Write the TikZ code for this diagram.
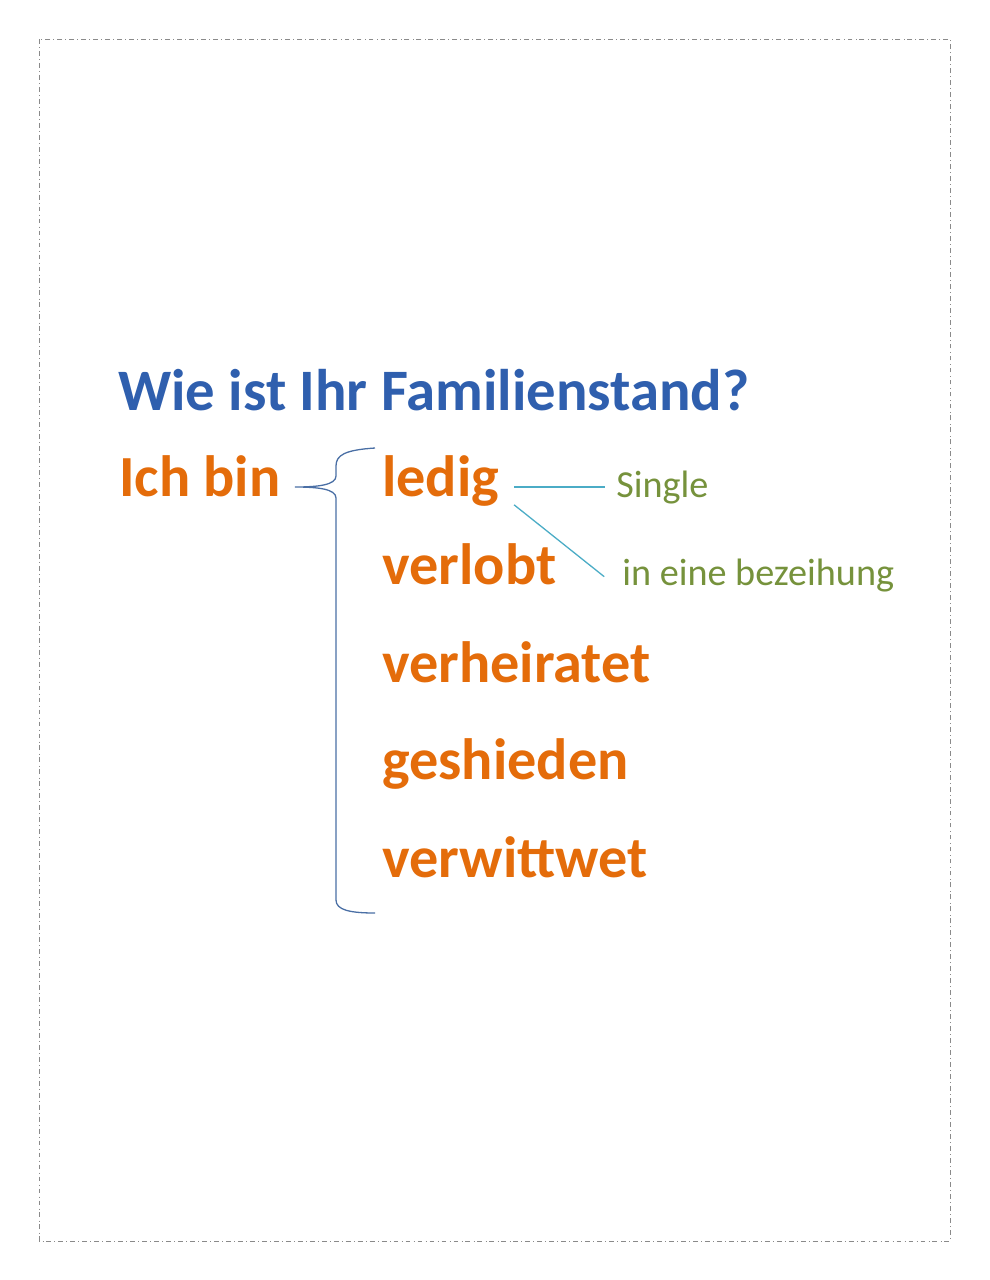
\documentclass[tikz,border=0pt]{standalone}
\usepackage{fontspec}
\setmainfont{Carlito}
\definecolor{orng}{HTML}{E46C0A}
\definecolor{ttlblue}{HTML}{2F5FAE}
\definecolor{olive}{HTML}{76923C}
\definecolor{bracecol}{HTML}{4A6FA5}
\definecolor{linkcol}{HTML}{4BACC6}
\definecolor{framecol}{HTML}{8A8A8A}
\tikzset{
  wordbig/.style={font=\fontsize{36}{40}\selectfont\bfseries, text=orng, inner sep=0pt, anchor=base west},
  titlestyle/.style={font=\fontsize{36.3}{40}\selectfont\bfseries, text=ttlblue, inner sep=0pt, anchor=base west},
  glossstyle/.style={font=\fontsize{23.6}{27}\selectfont, text=olive, inner sep=0pt, anchor=base west},
  linkstyle/.style={draw=linkcol, line width=0.8pt},
  bracestyle/.style={draw=bracecol, line width=0.8pt}
}
\begin{document}
\begin{tikzpicture}[x=0.618pt,y=-0.618pt]
\useasboundingbox (0,0) rectangle (990,1280);
\draw[framecol, dash dot, line width=0.6pt] (39,39) rectangle (950,1241);

\node[titlestyle] (title) at (118,410) {Wie ist Ihr Familienstand?};
\node[wordbig] (ichbin) at (119,496) {Ich bin};
\node[wordbig] (ledig) at (382,496) {ledig};
\node[wordbig] (verlobt) at (382,584) {verlobt};
\node[wordbig] (verheiratet) at (382,682) {verheiratet};
\node[wordbig] (geshieden) at (382,779) {geshieden};
\node[wordbig] (verwittwet) at (382,877) {verwittwet};

\node[glossstyle] (single) at (616,497) {Single};
\node[glossstyle] (bez) at (622,585) {in eine bezeihung};

\draw[linkstyle] ([xshift=9pt]ledig.east |- single.west) -- ([xshift=-7pt]single.west);
\draw[linkstyle] ([xshift=9pt,yshift=-15pt]ledig.east) -- ([xshift=-11pt,yshift=-1pt]bez.west);

\draw[bracestyle] (375,448) .. controls (345,450) and (336,455) .. (336,466)
  -- (336,476) .. controls (336,485) and (318,487) .. (295,487)
  .. controls (318,487) and (336,489) .. (336,498)
  -- (336,900) .. controls (336,910) and (350,913) .. (375,913);
\end{tikzpicture}
\end{document}
